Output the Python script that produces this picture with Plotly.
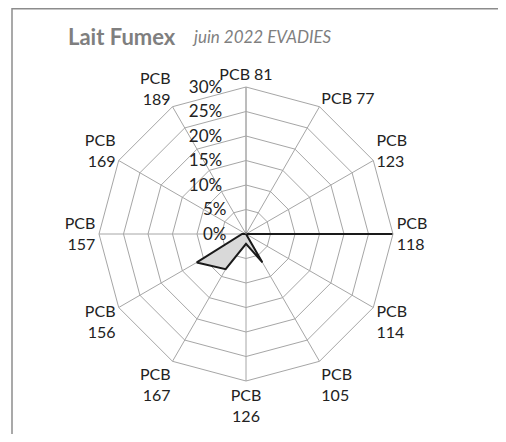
import plotly.graph_objects as go

categories = ["PCB 81", "PCB 77", "PCB 123", "PCB 118", "PCB 114", "PCB 105",
              "PCB 126", "PCB 167", "PCB 156", "PCB 157", "PCB 169", "PCB 189"]
tick_labels = ["PCB 81", "PCB 77", "PCB<br>123", "PCB<br>118", "PCB<br>114", "PCB<br>105",
               "PCB<br>126", "PCB<br>167", "PCB<br>156", "PCB<br>157", "PCB<br>169", "PCB<br>189"]
values = [0.3, 0, 0, 30, 0, 6.7, 2, 8.3, 11.6, 0.8, 0, 0]
radial_ticks = [0, 5, 10, 15, 20, 25, 30]

OFF = 8  # page body margin
W, H = 506 - 2 * OFF, 442 - 2 * OFF
cx, cy, R = 246 - OFF, 234 - OFF, 147

NB = "\u00a0"
radial_text = [f"{v}%" + NB * (4 if v >= 10 else 3) for v in radial_ticks]

fig = go.Figure()
fig.add_trace(go.Scatterpolar(
    r=values + [values[0]],
    theta=categories + [categories[0]],
    mode="lines",
    fill="toself",
    fillcolor="#d9d9d9",
    line=dict(color="#1a1a1a", width=2),
    hoverinfo="skip",
))

fig.update_layout(
    width=W, height=H,
    margin=dict(l=0, r=0, t=0, b=0),
    paper_bgcolor="white",
    showlegend=False,
    font=dict(family="Lato, 'Open Sans', sans-serif", size=16, color="#222"),
    polar=dict(
        bgcolor="white",
        gridshape="linear",
        domain=dict(x=[(cx - R) / W, (cx + R) / W], y=[1 - (cy + R) / H, 1 - (cy - R) / H]),
        angularaxis=dict(
            direction="clockwise",
            rotation=90,
            tickmode="array",
            tickvals=categories,
            ticktext=tick_labels,
            showline=True,
            linecolor="#a6a6a6",
            gridcolor="#a6a6a6",
            ticks="",
            tickfont=dict(size=16, color="#222"),
        ),
        radialaxis=dict(
            range=[0, 30],
            angle=90,
            tickangle=90,
            tickmode="array",
            tickvals=radial_ticks,
            ticktext=radial_text,
            side="counterclockwise",
            showline=True,
            linecolor="#a6a6a6",
            gridcolor="#a6a6a6",
            ticks="",
            tickfont=dict(size=17, color="#222"),
        ),
    ),
    shapes=[
        dict(type="line", xref="paper", yref="paper", x0=(12 - OFF) / W, x1=1,
             y0=1 - 0.002, y1=1 - 0.002, line=dict(color="#8c8c8c", width=1.5)),
        dict(type="line", xref="paper", yref="paper", x0=(12 - OFF) / W, x1=(12 - OFF) / W,
             y0=1, y1=0, line=dict(color="#8c8c8c", width=1.5)),
    ],
    annotations=[
        dict(xref="paper", yref="paper", x=(66 - OFF) / W, y=1 - (36 - OFF) / H, xanchor="left", yanchor="middle",
             showarrow=False,
             text="<b>Lait Fumex</b>",
             font=dict(size=22, color="#7f7f7f")),
        dict(xref="paper", yref="paper", x=(190 - OFF) / W, y=1 - (37 - OFF) / H, xanchor="left", yanchor="middle",
             showarrow=False,
             text="<i>juin 2022 EVADIES</i>",
             font=dict(size=17, color="#7f7f7f")),
    ],
)

fig.write_html("out.html")
